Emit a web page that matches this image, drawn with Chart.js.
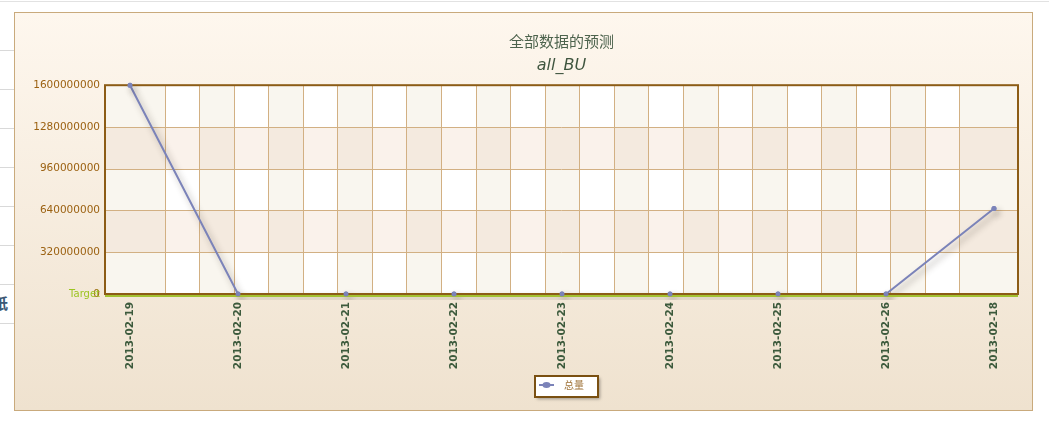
<!DOCTYPE html>
<html>
<head>
<meta charset="utf-8">
<script src="https://cdn.jsdelivr.net/npm/chart.js@4.4.1/dist/chart.umd.min.js"></script>
<style>
html, body { margin: 0; padding: 0; background: #fff; }
body { position: relative; width: 1049px; height: 431px; overflow: hidden; }
#topline { position: absolute; left: 0; top: 1px; width: 1049px; height: 1px; background: #e2e2e2; }
.hl { position: absolute; left: 0; width: 14px; height: 1px; background: #d9d9d9; }
#side { position: absolute; left: -7px; top: 292px; font: bold 15px "Noto Sans CJK SC"; color: #3b5874; }
#panel { position: absolute; left: 14px; top: 12px; width: 1017px; height: 397px;
         border: 1px solid #c9aa7c; background: linear-gradient(#fef7ee, #efe2cf); }
#wrap { position: absolute; left: 0; top: 0; width: 1049px; height: 431px; }
</style>
</head>
<body>
<div id="topline"></div>
<div class="hl" style="top:50px"></div>
<div class="hl" style="top:89px"></div>
<div class="hl" style="top:128px"></div>
<div class="hl" style="top:167px"></div>
<div class="hl" style="top:206px"></div>
<div class="hl" style="top:245px"></div>
<div class="hl" style="top:284px"></div>
<div class="hl" style="top:323px"></div>
<div id="side">纸</div>
<div id="panel"></div>
<div id="wrap"><canvas id="myChart"></canvas></div>

<script>
// 数据
const categories = [
    "2013-02-19", "2013-02-20", "2013-02-21", "2013-02-22", "2013-02-23",
    "2013-02-24", "2013-02-25", "2013-02-26", "2013-02-18"
];
const totals = [1600000000, 0, 0, 0, 0, 0, 0, 0, 655000000];
const yTicks = [0, 320000000, 640000000, 960000000, 1280000000, 1600000000];
const seriesName = "总量";
const titleText = "全部数据的预测";
const subtitleText = "all_BU";
const targetLabel = "Target";

const LINE_COLOR = "#7b83b9";
// background columns: 25 bands across the 8 category steps
const GRID_STEP = 8 / 25;

// legend marker: line with a dot
const marker = document.createElement("canvas");
marker.width = 20;
marker.height = 8;
(function () {
    const m = marker.getContext("2d");
    m.strokeStyle = LINE_COLOR;
    m.lineWidth = 2;
    m.beginPath();
    m.moveTo(0, 4);
    m.lineTo(15, 4);
    m.stroke();
    m.fillStyle = LINE_COLOR;
    m.beginPath();
    m.ellipse(7.5, 4, 4, 3, 0, 0, Math.PI * 2);
    m.fill();
})();

const plotBackground = {
    id: "plotBackground",
    beforeDatasetsDraw(chart) {
        const { ctx, chartArea: a, scales: { x, y } } = chart;

        const cols = [a.left];
        for (let k = 1; k < 25; k++) cols.push(Math.round(x.getPixelForValue(k * GRID_STEP)));
        cols.push(a.right);

        const rows = yTicks.map(v => Math.round(y.getPixelForValue(v))).sort((p, q) => p - q);

        ctx.save();
        for (let r = 0; r < rows.length - 1; r++) {
            for (let c = 0; c < cols.length - 1; c++) {
                const dark = r % 2 === 1;
                const tinted = c % 2 === 0;
                ctx.fillStyle = dark
                    ? (tinted ? "#f4eadf" : "#faf2eb")
                    : (tinted ? "#f9f6ef" : "#ffffff");
                ctx.fillRect(cols[c], rows[r], cols[c + 1] - cols[c], rows[r + 1] - rows[r]);
            }
        }

        ctx.strokeStyle = "#d2b083";
        ctx.lineWidth = 1;
        ctx.beginPath();
        for (let c = 1; c < cols.length - 1; c++) {
            ctx.moveTo(cols[c] + 0.5, a.top);
            ctx.lineTo(cols[c] + 0.5, a.bottom);
        }
        for (let r = 1; r < rows.length - 1; r++) {
            ctx.moveTo(a.left, rows[r] + 0.5);
            ctx.lineTo(a.right, rows[r] + 0.5);
        }
        ctx.stroke();
        ctx.restore();
    },
    afterDatasetsDraw(chart) {
        const { ctx, chartArea: a, scales: { y } } = chart;
        const y0 = y.getPixelForValue(0);
        ctx.save();
        // target line at 0
        ctx.strokeStyle = "#a3c232";
        ctx.lineWidth = 2;
        ctx.beginPath();
        ctx.moveTo(a.left, y0 + 2);
        ctx.lineTo(a.right, y0 + 2);
        ctx.stroke();

        ctx.strokeStyle = "#8c5c16";
        ctx.lineWidth = 2;
        ctx.strokeRect(a.left, a.top, a.right - a.left, a.bottom - a.top);

        ctx.fillStyle = "#9cc420";
        ctx.font = "10px 'DejaVu Sans'";
        ctx.textAlign = "right";
        ctx.textBaseline = "middle";
        ctx.fillText(targetLabel, a.left - 5, y0);

        // points stay on top of the frame
        chart.getDatasetMeta(0).data.forEach(pt => pt.draw(ctx, a));
        ctx.restore();
    }
};

const lineShadow = {
    id: "lineShadow",
    beforeDatasetDraw(chart) {
        const ctx = chart.ctx;
        ctx.save();
        ctx.shadowColor = "rgba(60,50,40,0.42)";
        ctx.shadowBlur = 6;
        ctx.shadowOffsetX = 3;
        ctx.shadowOffsetY = 4;
    },
    afterDatasetDraw(chart) {
        chart.ctx.restore();
    }
};

const legendBox = {
    id: "legendBox",
    beforeDraw(chart) {
        const hb = chart.legend && chart.legend.legendHitBoxes[0];
        if (!hb) return;
        const ctx = chart.ctx;
        const x0 = hb.left - 4;
        const y0 = hb.top - 4;
        const w = hb.width + 18;
        const h = hb.height + 11;
        ctx.save();
        ctx.shadowColor = "rgba(0,0,0,0.35)";
        ctx.shadowBlur = 3;
        ctx.shadowOffsetX = 2;
        ctx.shadowOffsetY = 2;
        ctx.fillStyle = "#ffffff";
        ctx.fillRect(x0, y0, w, h);
        ctx.restore();
        ctx.save();
        ctx.strokeStyle = "#7a5012";
        ctx.lineWidth = 2;
        ctx.strokeRect(x0, y0, w, h);
        ctx.restore();
    }
};

const myChart = new Chart(document.getElementById("myChart"), {
    type: "line",
    data: {
        datasets: [{
            label: seriesName,
            data: totals.map((v, i) => ({ x: i, y: v })),
            borderColor: LINE_COLOR,
            backgroundColor: LINE_COLOR,
            borderWidth: 2,
            pointRadius: 2.5,
            pointBorderWidth: 0,
            tension: 0,
            clip: 6
        }]
    },
    options: {
        responsive: true,
        maintainAspectRatio: false,
        animation: false,
        events: [],
        layout: { padding: { left: 0, right: 31, top: 0, bottom: 31 } },
        scales: {
            x: {
                type: "linear",
                min: -25 / 108,
                max: 8 + 24 / 108,
                afterBuildTicks: s => { s.ticks = categories.map((c, i) => ({ value: i })); },
                afterFit: s => { s.height = 76; },
                grid: { display: false, drawTicks: false },
                border: { display: false },
                ticks: {
                    autoSkip: false,
                    minRotation: 90,
                    maxRotation: 90,
                    padding: 8,
                    color: "#3c5a3c",
                    font: { family: "DejaVu Sans", size: 10.5, weight: "bold" },
                    callback: v => categories[v]
                }
            },
            y: {
                min: 0,
                max: 1600000000,
                afterBuildTicks: s => { s.ticks = yTicks.map(v => ({ value: v })); },
                afterFit: s => { s.width = 105; },
                grid: { display: false, drawTicks: false },
                border: { display: false },
                ticks: {
                    padding: 5,
                    color: "#9c6212",
                    font: { family: "DejaVu Sans", size: 10.5 },
                    callback: v => String(v)
                }
            }
        },
        plugins: {
            title: {
                display: true,
                text: titleText,
                fullSize: false,
                color: "#4d634d",
                font: { family: "'Noto Sans CJK SC'", size: 15, weight: "normal" },
                padding: { top: 32, bottom: 4 }
            },
            subtitle: {
                display: true,
                text: subtitleText,
                fullSize: false,
                color: "#3f553f",
                font: { family: "DejaVu Sans", size: 16, style: "italic" },
                padding: { top: 2, bottom: 10 }
            },
            legend: {
                position: "bottom",
                fullSize: false,
                labels: {
                    usePointStyle: true,
                    pointStyle: marker,
                    pointStyleWidth: 20,
                    padding: 10,
                    color: "#a0743a",
                    font: { family: "'Noto Sans CJK SC'", size: 10 }
                }
            },
            tooltip: { enabled: false }
        }
    },
    plugins: [plotBackground, lineShadow, legendBox]
});
</script>
</body>
</html>
